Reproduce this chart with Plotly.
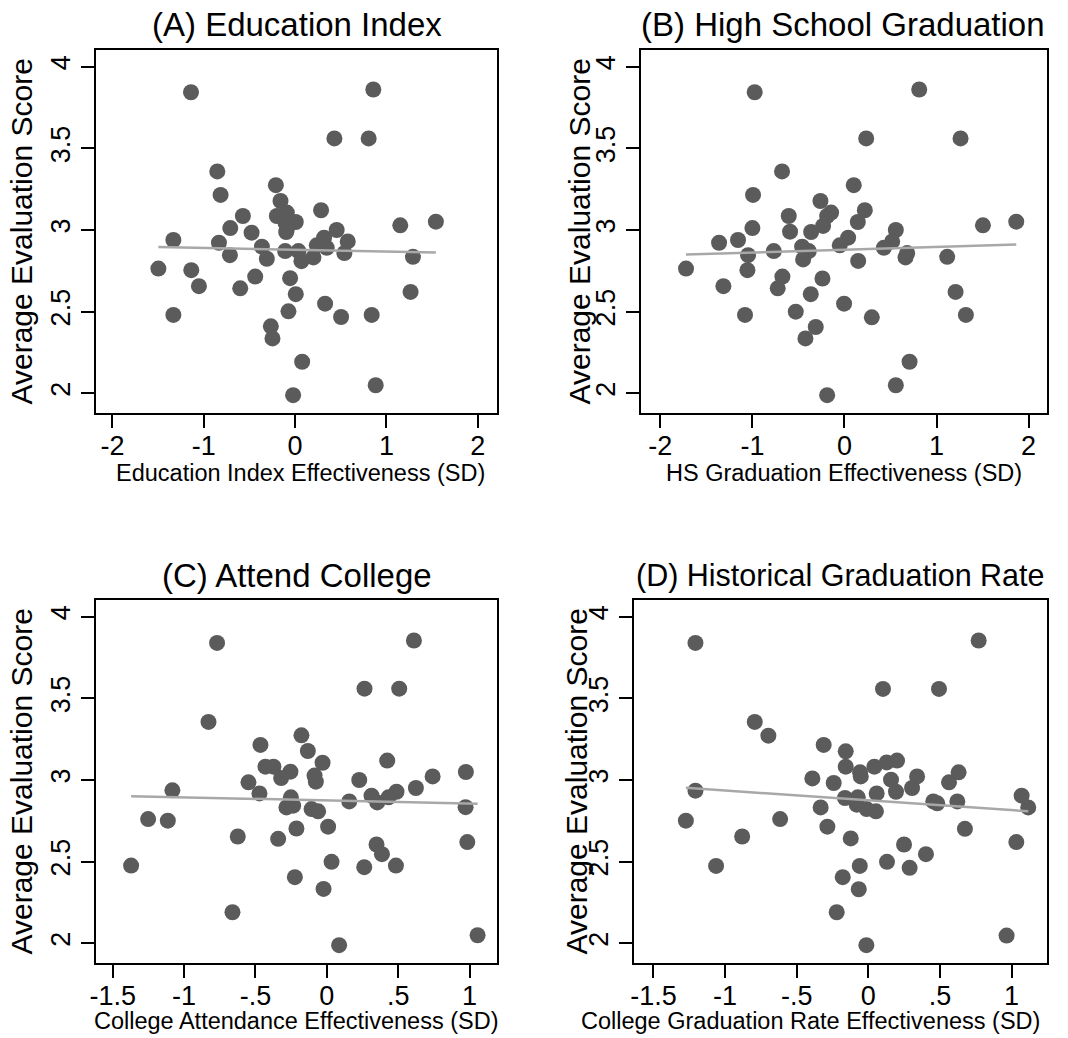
import numpy as np
import plotly.graph_objects as go

# ---------------- data ----------------
ed_x = [-1.14, 0.856, 0.43, 0.805, -0.852, -0.211, -0.816, -0.160, 0.284, -0.572, -0.2, -0.091, 0.007, -0.106,
        -0.091, -0.098, 1.151, 1.541, -0.710, -0.477, 0.455, -1.333, -0.834, 0.317, 0.576, 0.237, 0.346, -0.364,
        -0.714, -0.109, 0.036, 0.539, 0.069, 0.2, -0.310, 1.290, -1.497, -1.137, -0.437, -1.053, -0.601, -0.055,
        0.007, 1.264, 0.328, -1.333, -0.073, 0.503, 0.838, -0.266, -0.248, 0.077, 0.882, -0.022]
ed_y = [3.844, 3.861, 3.561, 3.561, 3.359, 3.275, 3.215, 3.178, 3.121, 3.086, 3.086, 3.107, 3.049, 3.045,
        3.004, 2.988, 3.029, 3.051, 3.012, 2.984, 3.0, 2.939, 2.922, 2.953, 2.930, 2.906, 2.891, 2.898,
        2.846, 2.871, 2.871, 2.859, 2.809, 2.832, 2.824, 2.836, 2.764, 2.754, 2.715, 2.656, 2.643, 2.705,
        2.607, 2.621, 2.549, 2.480, 2.502, 2.467, 2.480, 2.410, 2.336, 2.193, 2.049, 1.988]

hs_x = [-0.975, 0.812, 0.236, 1.261, -0.678, 0.101, -0.993, -0.261, 0.221, -0.605, -0.145, -0.188, 0.145, -0.232,
        1.504, 1.866, -1.0, -0.362, -0.591, 0.558, -1.156, -1.362, 0.040, 0.518, -0.051, 0.428, -0.460, -1.047,
        -0.768, -0.388, 0.681, -0.449, 0.663, 0.149, 1.116, -1.721, -1.054, -0.674, -1.315, -0.725, -0.239,
        -0.366, 1.207, -0.004, -1.080, -0.529, 0.297, 1.319, -0.312, -0.424, 0.707, 0.558, -0.188]
hs_y = [3.844, 3.861, 3.561, 3.561, 3.359, 3.275, 3.215, 3.178, 3.121, 3.086, 3.107, 3.086, 3.049, 3.025,
        3.029, 3.051, 3.012, 2.988, 2.99, 3.0, 2.939, 2.922, 2.953, 2.930, 2.906, 2.891, 2.898, 2.846,
        2.871, 2.871, 2.859, 2.82, 2.832, 2.811, 2.836, 2.764, 2.754, 2.715, 2.656, 2.643, 2.703,
        2.607, 2.621, 2.549, 2.480, 2.5, 2.465, 2.480, 2.406, 2.336, 2.193, 2.049, 1.988]

ca_x = [-0.769, 0.610, 0.264, 0.507, -0.829, -0.178, -0.465, -0.133, -0.030, -0.430, -0.374, -0.255, -0.320,
        -0.086, -0.077, 0.974, 0.741, 0.227, -0.549, -1.082, -0.472, 0.423, 0.624, 0.488, 0.432, 0.313, 0.353,
        -0.252, 0.157, -0.283, -0.236, -0.107, -0.061, 0.972, -1.252, -1.114, -0.624, -0.341, -0.213, 0.009,
        0.984, 0.348, 0.386, 0.033, -1.371, 0.262, 0.484, -0.224, -0.023, -0.661, 1.056, 0.086]
ca_y = [3.840, 3.855, 3.560, 3.560, 3.356, 3.274, 3.215, 3.178, 3.106, 3.082, 3.082, 3.051, 3.012,
        3.027, 2.990, 3.049, 3.022, 3.0, 2.986, 2.937, 2.918, 3.119, 2.951, 2.928, 2.894, 2.904, 2.863,
        2.894, 2.869, 2.832, 2.843, 2.822, 2.808, 2.834, 2.761, 2.751, 2.654, 2.640, 2.703, 2.714,
        2.620, 2.605, 2.546, 2.499, 2.476, 2.466, 2.476, 2.405, 2.333, 2.190, 2.049, 1.988]

gr_x = [-1.207, 0.770, 0.102, 0.493, -0.793, -0.698, -0.312, -0.158, -0.158, -0.058, -0.053, 0.042, 0.128, 0.2,
        -0.391, -0.242, 0.340, 0.305, 0.158, 0.193, 0.563, 0.630, -1.207, -0.163, -0.074, 0.058, -0.081,
        -0.012, 0.053, 0.453, 0.481, 0.621, 1.070, 1.116, -0.333, -1.274, -0.616, -0.286, 0.674, -0.881,
        -0.123, 0.249, 1.033, 0.402, 0.130, -1.063, -0.060, 0.288, -0.179, -0.067, -0.221, 0.965, -0.014]
gr_y = [3.840, 3.855, 3.558, 3.558, 3.356, 3.272, 3.215, 3.176, 3.082, 3.047, 3.022, 3.082, 3.108, 3.119,
        3.010, 2.982, 3.022, 2.951, 3.002, 2.928, 2.986, 3.047, 2.935, 2.890, 2.894, 2.918, 2.849,
        2.822, 2.808, 2.869, 2.857, 2.869, 2.904, 2.832, 2.832, 2.751, 2.761, 2.714, 2.701, 2.654,
        2.642, 2.605, 2.620, 2.546, 2.499, 2.474, 2.474, 2.462, 2.405, 2.331, 2.190, 2.047, 1.988]

titles = ["(A) Education Index", "(B) High School Graduation",
          "(C) Attend College", "(D) Historical Graduation Rate"]
xtitles = ["Education Index Effectiveness (SD)", "HS Graduation Effectiveness (SD)",
           "College Attendance Effectiveness (SD)", "College Graduation Rate Effectiveness (SD)"]
ytitle = "Average Evaluation Score"

y_tickvals = [2, 2.5, 3, 3.5, 4]
y_ticktext = ["2", "2.5", "3", "3.5", "4"]
xtick_ab_vals = [-2, -1, 0, 1, 2]
xtick_ab_text = ["-2", "-1", "0", "1", "2"]
xtick_cd_vals = [-1.5, -1, -0.5, 0, 0.5, 1]
xtick_cd_text = ["-1.5", "-1", "-.5", "0", ".5", "1"]

# ---------------- layout geometry (pixels) ----------------
W, H = 1068, 1038
FONT = "Liberation Sans, Arial, sans-serif"
MARK = "#5b5b5b"
LINE = "#a8a8a8"
YR = [1.879, 4.103]

panels = [
    dict(x=ed_x, y=ed_y, px=(96, 497), py=(50, 413), xr=[-2.18, 2.21], tv=xtick_ab_vals, tt=xtick_ab_text,
         title_x=296.5, title_size=33, ytitle_x=21, xtitle_x=300, xtitle_y=473),
    dict(x=hs_x, y=hs_y, px=(641, 1047), py=(50, 413), xr=[-2.21, 2.20], tv=xtick_ab_vals, tt=xtick_ab_text,
         title_x=843, title_size=33, ytitle_x=579, xtitle_x=844, xtitle_y=473),
    dict(x=ca_x, y=ca_y, px=(96, 497), py=(600, 963), xr=[-1.617, 1.192], tv=xtick_cd_vals, tt=xtick_cd_text,
         title_x=296.5, title_size=33, ytitle_x=21, xtitle_x=296, xtitle_y=1021),
    dict(x=gr_x, y=gr_y, px=(634, 1047), py=(600, 963), xr=[-1.636, 1.247], tv=xtick_cd_vals, tt=xtick_cd_text,
         title_x=840, title_size=30.5, ytitle_x=576, xtitle_x=810, xtitle_y=1021),
]

fig = go.Figure()
annotations = []
layout = {}
for i, p in enumerate(panels):
    k = "" if i == 0 else str(i + 1)
    xa, ya = "x" + k, "y" + k
    x = np.array(p["x"]); y = np.array(p["y"])
    fig.add_trace(go.Scatter(x=x, y=y, mode="markers", xaxis=xa, yaxis=ya,
                             marker=dict(size=16, color=MARK, line=dict(width=0)), showlegend=False))
    b, a = np.polyfit(x, y, 1)
    xs = np.array([x.min(), x.max()])
    fig.add_trace(go.Scatter(x=xs, y=a + b * xs, mode="lines", xaxis=xa, yaxis=ya,
                             line=dict(color=LINE, width=2.5), showlegend=False))
    tickfont = dict(family=FONT, size=27, color="black")
    common = dict(showline=True, linecolor="black", linewidth=2, mirror=True, ticks="outside",
                  ticklen=13, tickwidth=2, tickcolor="black", showgrid=False, zeroline=False,
                  tickfont=tickfont, automargin=False)
    ydom = [1 - p["py"][1] / H, 1 - p["py"][0] / H]
    xdom = [p["px"][0] / W, p["px"][1] / W]
    layout["xaxis" + k] = dict(domain=xdom, range=p["xr"], anchor=ya, tickmode="array",
                               tickvals=p["tv"], showticklabels=False, **common)
    layout["yaxis" + k] = dict(domain=ydom, range=YR, anchor=xa, tickmode="array", tickvals=y_tickvals,
                               showticklabels=False, **common)
    # label-only overlay axes (place tick labels at the reference distance from the frame)
    kk = str(i + 5)
    layout["xaxis" + kk] = dict(domain=xdom, range=p["xr"], anchor=ya, overlaying=xa, side="bottom",
                                tickmode="array", tickvals=p["tv"], ticktext=p["tt"],
                                ticks="", showline=False, showgrid=False, zeroline=False,
                                tickfont=tickfont, ticklabelstandoff=14, automargin=False)
    layout["yaxis" + kk] = dict(domain=ydom, range=YR, anchor=xa, overlaying=ya, side="left",
                                tickmode="array", tickvals=y_tickvals, ticktext=y_ticktext, tickangle=-90,
                                ticks="", showline=False, showgrid=False, zeroline=False,
                                tickfont=tickfont, ticklabelstandoff=20, automargin=False)
    fig.add_trace(go.Scatter(x=[None], y=[None], xaxis=xa, yaxis="y" + kk, showlegend=False,
                             hoverinfo="skip"))
    fig.add_trace(go.Scatter(x=[None], y=[None], xaxis="x" + kk, yaxis=ya, showlegend=False,
                             hoverinfo="skip"))
    annotations.append(dict(text=titles[i], x=p["title_x"] / W, y=1 - (p["py"][0] - 25) / H,
                            xref="paper", yref="paper", showarrow=False, xanchor="center", yanchor="middle",
                            font=dict(family=FONT, size=p["title_size"], color="black")))
    annotations.append(dict(text=ytitle, x=p["ytitle_x"] / W, y=1 - ((p["py"][0] + p["py"][1]) / 2) / H,
                            xref="paper", yref="paper", showarrow=False, xanchor="center", yanchor="middle",
                            textangle=-90, font=dict(family=FONT, size=30, color="black")))
    annotations.append(dict(text=xtitles[i], x=p["xtitle_x"] / W, y=1 - p["xtitle_y"] / H,
                            xref="paper", yref="paper", showarrow=False, xanchor="center", yanchor="middle",
                            font=dict(family=FONT, size=23.5, color="black")))

fig.update_layout(width=W, height=H, margin=dict(l=0, r=0, t=0, b=0), plot_bgcolor="white",
                  paper_bgcolor="white", annotations=annotations, **layout)
fig.write_html("out.html")
